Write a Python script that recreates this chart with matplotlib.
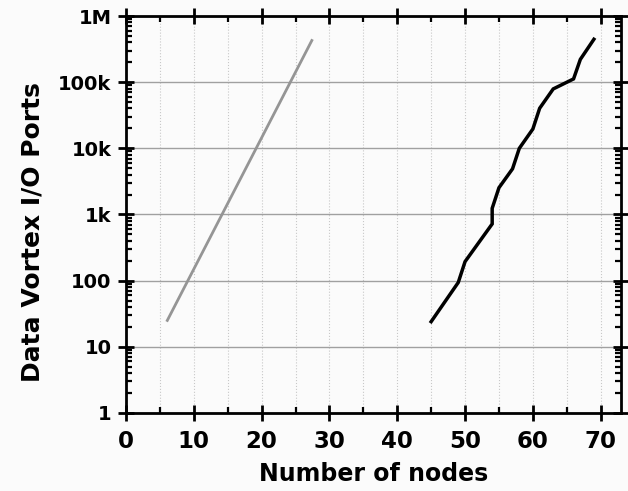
import matplotlib
matplotlib.use("Agg")
import matplotlib.pyplot as plt
from matplotlib.ticker import FixedLocator, MultipleLocator, LogLocator, NullFormatter

# Growth of Data Vortex I/O ports with number of nodes
gray_nodes = [6, 27.5]
gray_ports = [24, 445000]

black_nodes = [45, 49, 50, 54, 54, 55, 57, 58, 60, 61, 63, 66, 67, 69]
black_ports = [24, 94, 194, 720, 1240, 2540, 4900, 10000, 19600, 40300,
               79000, 112000, 221000, 445000]

y_ticks = [1, 10, 100, 1e3, 1e4, 1e5, 1e6]
y_labels = ["1", "10", "100", "1k", "10k", "100k", "1M"]
x_ticks = [0, 10, 20, 30, 40, 50, 60, 70]

plt.rcParams['font.family'] = ['DejaVu Sans']
plt.rcParams['font.weight'] = 'bold'

bg = '#fbfbfb'
fig = plt.figure(figsize=(6.28, 4.91), dpi=100, facecolor=bg)
ax = fig.add_axes([0.2006, 0.1589, 0.7883, 0.8085], facecolor=bg)

ax.set_yscale('log')
ax.set_xlim(0, 73)
ax.set_ylim(1, 1e6)

ax.plot(gray_nodes, gray_ports, color='#959595', lw=2.0, solid_capstyle='butt', zorder=3)
ax.plot(black_nodes, black_ports, color='black', lw=2.5, solid_joinstyle='miter', zorder=3)

ax.xaxis.set_major_locator(FixedLocator(x_ticks))
ax.xaxis.set_minor_locator(MultipleLocator(5))
ax.yaxis.set_major_locator(FixedLocator(y_ticks))
ax.set_yticklabels(y_labels)
ax.yaxis.set_minor_locator(LogLocator(base=10, subs=range(2, 10), numticks=20))
ax.yaxis.set_minor_formatter(NullFormatter())

# grids: solid horizontal at decades, dotted vertical every 5
ax.grid(True, axis='y', which='major', color='#a0a0a0', lw=1.0, ls='-')
ax.grid(True, axis='x', which='both', color='#c8c8c8', lw=0.8, ls=':')
ax.set_axisbelow(True)

for sp in ax.spines.values():
    sp.set_linewidth(2.0)

ax.tick_params(which='major', direction='inout', length=11, width=2.0,
               top=True, right=True)
ax.tick_params(which='minor', direction='in', length=4, width=1.6,
               top=True, right=True)
ax.tick_params(axis='y', which='major', labelsize=14, pad=5)
ax.tick_params(axis='x', which='major', labelsize=16.5, pad=7)

for lbl in ax.get_xticklabels() + ax.get_yticklabels():
    lbl.set_fontweight('bold')

ax.set_xlabel("Number of nodes", fontsize=17, fontweight='bold', labelpad=6)
ax.set_ylabel("Data Vortex I/O Ports", fontsize=18, fontweight='bold')
ax.yaxis.set_label_coords(-0.164, 0.456)

fig.savefig("out.png", dpi=100, facecolor=bg)
